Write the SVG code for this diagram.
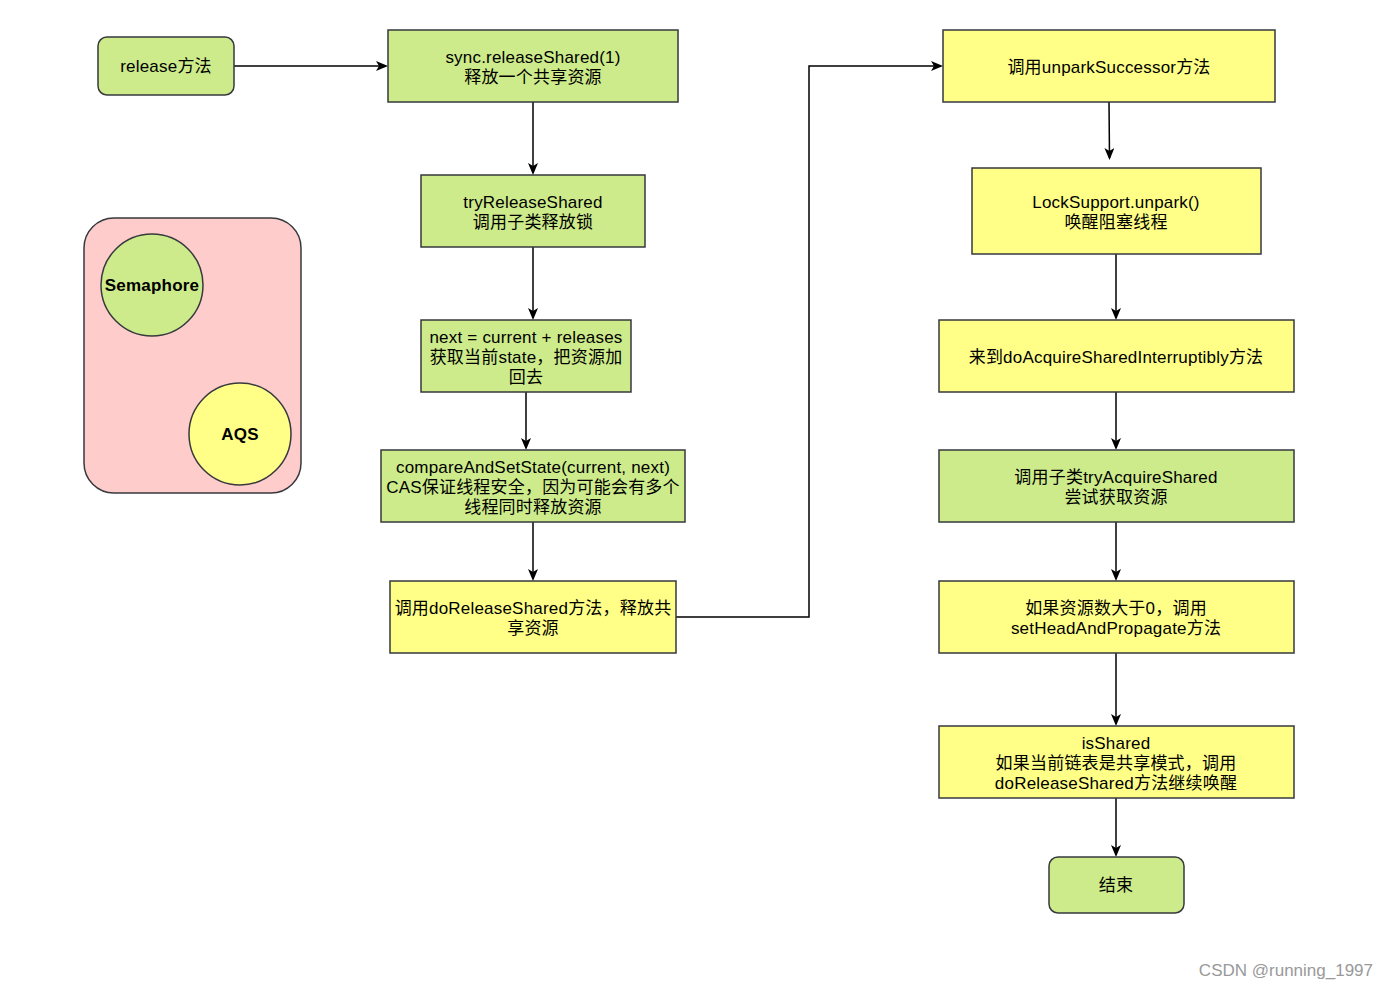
<svg xmlns="http://www.w3.org/2000/svg" width="1388" height="989" viewBox="0 0 1388 989">
<style>
.g{fill:#cdeb8b;stroke:#36393d;stroke-width:1.5}
.y{fill:#ffff88;stroke:#36393d;stroke-width:1.5}
.p{fill:#ffcccc;stroke:#36393d;stroke-width:1.5}
.t{font-family:"Liberation Sans","Noto Sans CJK SC",Arial,sans-serif;font-size:17px;letter-spacing:0.2px;fill:#000;text-anchor:middle}
.b{font-weight:bold}
.c{fill:none;stroke:#000;stroke-width:1.5}
.w{font-family:"Liberation Sans","Noto Sans CJK SC",Arial,sans-serif;font-size:17px;fill:#999;text-anchor:end}
</style>
<defs>
<marker id="a" markerWidth="12" markerHeight="10" refX="10" refY="5" orient="auto" markerUnits="userSpaceOnUse">
<path d="M0,0 L12,5 L0,10 L3,5 Z" fill="#000"/>
</marker>
</defs>
<rect width="1388" height="989" fill="#fff"/>
<g id="connectors">
<path class="c" d="M234,66 H386" marker-end="url(#a)"/>
<path class="c" d="M533,102 V173" marker-end="url(#a)"/>
<path class="c" d="M533,247 V318" marker-end="url(#a)"/>
<path class="c" d="M526,392 V448" marker-end="url(#a)"/>
<path class="c" d="M533,522 V579" marker-end="url(#a)"/>
<path class="c" d="M676,617 H809 V66 H941" marker-end="url(#a)"/>
<path class="c" d="M1109,102 L1109.5,158" marker-end="url(#a)"/>
<path class="c" d="M1116,254 V318" marker-end="url(#a)"/>
<path class="c" d="M1116,392 V448" marker-end="url(#a)"/>
<path class="c" d="M1116,522 V579" marker-end="url(#a)"/>
<path class="c" d="M1116,653 V724" marker-end="url(#a)"/>
<path class="c" d="M1116,798 V855" marker-end="url(#a)"/>
</g>
<g id="container">
<rect class="p" x="84" y="218" width="217" height="275" rx="30"/>
</g>
<g id="semaphore">
<circle class="g" cx="152" cy="285" r="51"/>
<text class="t b" x="152" y="291">Semaphore</text>
</g>
<g id="aqs">
<circle class="y" cx="240" cy="434" r="51"/>
<text class="t b" x="240" y="440">AQS</text>
</g>
<g id="release">
<rect class="g" x="98" y="37" width="136" height="58" rx="9"/>
<text class="t" x="166" y="72">release方法</text>
</g>
<g id="sync">
<rect class="g" x="388" y="30" width="290" height="72"/>
<text class="t" x="533" y="63">sync.releaseShared(1)</text>
<text class="t" x="533" y="83">释放一个共享资源</text>
</g>
<g id="tryRelease">
<rect class="g" x="421" y="175" width="224" height="72"/>
<text class="t" x="533" y="208">tryReleaseShared</text>
<text class="t" x="533" y="228">调用子类释放锁</text>
</g>
<g id="next">
<rect class="g" x="421" y="320" width="210" height="72"/>
<text class="t" x="526" y="343">next = current + releases</text>
<text class="t" x="526" y="363">获取当前state，把资源加</text>
<text class="t" x="526" y="383">回去</text>
</g>
<g id="cas">
<rect class="g" x="381" y="450" width="304" height="72"/>
<text class="t" x="533" y="473">compareAndSetState(current, next)</text>
<text class="t" x="533" y="493">CAS保证线程安全，因为可能会有多个</text>
<text class="t" x="533" y="513">线程同时释放资源</text>
</g>
<g id="doRelease">
<rect class="y" x="390" y="581" width="286" height="72"/>
<text class="t" x="533" y="614">调用doReleaseShared方法，释放共</text>
<text class="t" x="533" y="634">享资源</text>
</g>
<g id="unparkSucc">
<rect class="y" x="943" y="30" width="332" height="72"/>
<text class="t" x="1109" y="73">调用unparkSuccessor方法</text>
</g>
<g id="lockSupport">
<rect class="y" x="972" y="168" width="289" height="86"/>
<text class="t" x="1116" y="208">LockSupport.unpark()</text>
<text class="t" x="1116" y="228">唤醒阻塞线程</text>
</g>
<g id="doAcquire">
<rect class="y" x="939" y="320" width="355" height="72"/>
<text class="t" x="1116" y="363">来到doAcquireSharedInterruptibly方法</text>
</g>
<g id="tryAcquire">
<rect class="g" x="939" y="450" width="355" height="72"/>
<text class="t" x="1116" y="483">调用子类tryAcquireShared</text>
<text class="t" x="1116" y="503">尝试获取资源</text>
</g>
<g id="setHead">
<rect class="y" x="939" y="581" width="355" height="72"/>
<text class="t" x="1116" y="614">如果资源数大于0，调用</text>
<text class="t" x="1116" y="634">setHeadAndPropagate方法</text>
</g>
<g id="isShared">
<rect class="y" x="939" y="726" width="355" height="72"/>
<text class="t" x="1116" y="749">isShared</text>
<text class="t" x="1116" y="769">如果当前链表是共享模式，调用</text>
<text class="t" x="1116" y="789">doReleaseShared方法继续唤醒</text>
</g>
<g id="end">
<rect class="g" x="1049" y="857" width="135" height="56" rx="9"/>
<text class="t" x="1116" y="891">结束</text>
</g>
<text class="w" x="1373" y="976">CSDN @running_1997</text>
</svg>
